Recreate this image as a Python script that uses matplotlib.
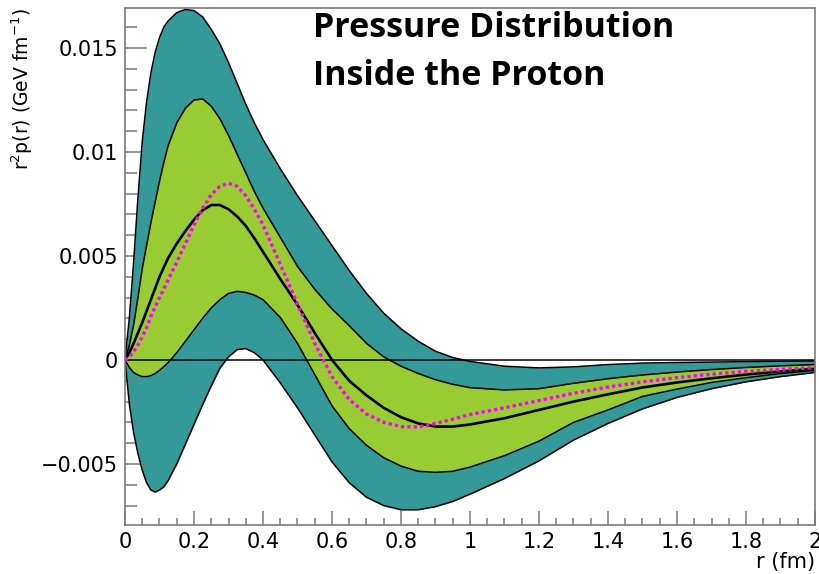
import matplotlib
matplotlib.use("Agg")
import matplotlib.pyplot as plt
import numpy as np

# radial grid (fm)
r = [0.0, 0.0125, 0.025, 0.0375, 0.05, 0.0625, 0.075, 0.0875, 0.1, 0.1125,
     0.125, 0.15, 0.175, 0.2, 0.225, 0.25, 0.275, 0.3, 0.325, 0.35, 0.375,
     0.4, 0.45, 0.5, 0.55, 0.6, 0.65, 0.7, 0.75, 0.8, 0.85, 0.9, 0.95, 1.0,
     1.1, 1.2, 1.3, 1.4, 1.5, 1.6, 1.7, 1.8, 1.9, 2.0]

# r^2 p(r) in units of 1e-3 GeV fm^-1
outer_hi = [0.0, 2.0, 4.7, 7.8, 10.5, 12.4, 13.8, 14.8, 15.5, 16.0,
            16.3, 16.7, 16.85, 16.8, 16.5, 15.9, 15.2, 14.3, 13.3, 12.3, 11.4,
            10.6, 9.2, 7.9, 6.7, 5.5, 4.3, 3.2, 2.25, 1.5, 0.9, 0.42, 0.12, -0.07,
            -0.3, -0.38, -0.33, -0.22, -0.15, -0.12, -0.1, -0.08, -0.06, -0.05]
inner_hi = [0.0, 0.7, 1.7, 3.0, 4.4, 5.5, 6.6, 7.6, 8.6, 9.5,
            10.3, 11.4, 12.1, 12.5, 12.55, 12.2, 11.6, 10.8, 9.9, 9.0, 8.1,
            7.3, 5.9, 4.5, 3.4, 2.45, 1.65, 0.8, 0.15, -0.3, -0.65, -0.95, -1.17,
            -1.33, -1.44, -1.38, -1.12, -0.9, -0.72, -0.58, -0.46, -0.36, -0.28,
            -0.22]
central = [0.0, 0.35, 0.8, 1.3, 1.8, 2.35, 2.9, 3.45, 4.0, 4.45,
           4.9, 5.6, 6.2, 6.75, 7.2, 7.45, 7.45, 7.25, 6.9, 6.45, 5.85,
           5.2, 3.9, 2.65, 1.3, 0.0, -1.0, -1.7, -2.3, -2.75, -3.05, -3.2, -3.2,
           -3.1, -2.8, -2.4, -2.0, -1.65, -1.32, -1.08, -0.88, -0.7, -0.55,
           -0.42]
inner_lo = [0.0, -0.35, -0.6, -0.72, -0.8, -0.8, -0.75, -0.65, -0.5, -0.32,
            -0.12, 0.35, 0.9, 1.45, 2.0, 2.5, 2.9, 3.2, 3.3, 3.25, 3.12,
            2.9, 2.05, 0.8, -0.7, -2.2, -3.3, -4.1, -4.7, -5.1, -5.35, -5.4,
            -5.35, -5.15, -4.6, -3.9, -3.0, -2.4, -1.75, -1.4, -1.08, -0.85,
            -0.65, -0.5]
outer_lo = [0.0, -2.1, -3.5, -4.5, -5.3, -5.9, -6.25, -6.35, -6.25, -6.1,
            -5.8, -5.0, -4.05, -3.1, -2.15, -1.25, -0.4, 0.15, 0.5, 0.55, 0.35,
            0.0, -1.1, -2.3, -3.6, -4.9, -5.9, -6.6, -7.0, -7.2, -7.2, -7.05,
            -6.8, -6.45, -5.7, -4.85, -3.85, -3.05, -2.35, -1.8, -1.38, -1.05,
            -0.8, -0.6]
model = [0.0, 0.15, 0.4, 0.72, 1.1, 1.55, 2.1, 2.55, 3.0, 3.42,
         3.85, 4.7, 5.6, 6.5, 7.3, 7.95, 8.35, 8.5, 8.35, 7.9, 7.25,
         6.5, 4.6, 2.7, 0.8, -0.8, -1.9, -2.6, -3.0, -3.2, -3.22, -3.05, -2.85,
         -2.62, -2.3, -1.95, -1.6, -1.3, -1.05, -0.85, -0.68, -0.55, -0.45,
         -0.37]

x_ticks = [0, 0.2, 0.4, 0.6, 0.8, 1.0, 1.2, 1.4, 1.6, 1.8, 2.0]
x_labels = ["0", "0.2", "0.4", "0.6", "0.8", "1", "1.2", "1.4", "1.6", "1.8", "2"]
y_ticks = [-0.005, 0.0, 0.005, 0.01, 0.015]
y_labels = ["\u22120.005", "0", "0.005", "0.01", "0.015"]

title_lines = ["Pressure Distribution", "Inside the Proton"]

TEAL = "#339999"
GREEN = "#99cc33"
FRAME = "#7a7a7a"

plt.rcParams["font.family"] = ["DejaVu Sans"]

rr = np.array(r)
s = 1e-3
fig = plt.figure(figsize=(8.2, 5.74), dpi=100)
ax = fig.add_axes([125 / 820, 1 - 525 / 574, 690 / 820, 517 / 574])

ax.fill_between(rr, np.array(outer_lo) * s, np.array(outer_hi) * s,
                color=TEAL, lw=0, zorder=1)
ax.fill_between(rr, np.array(inner_lo) * s, np.array(inner_hi) * s,
                color=GREEN, lw=0, zorder=2)
for band in (outer_hi, outer_lo, inner_hi, inner_lo):
    ax.plot(rr, np.array(band) * s, color="black", lw=1.1, zorder=3,
            solid_joinstyle="round")
ax.axhline(0, color="black", lw=1.1, zorder=4)
ax.plot(rr, np.array(central) * s, color="black", lw=1.9, zorder=5,
        solid_joinstyle="round")
ax.plot(rr, np.array(model) * s, color="#ff00ff", lw=2.4,
        dashes=(1.0, 0.9), dash_capstyle="butt", zorder=6)

ax.set_xlim(0, 2)
ax.set_ylim(-0.007933, 0.016923)

ax.set_xticks(x_ticks)
ax.set_xticklabels(x_labels)
ax.set_xticks(np.arange(0, 2.0001, 0.05), minor=True)
ax.set_yticks(y_ticks)
ax.set_yticklabels(y_labels)
ax.set_yticks(np.arange(-0.007, 0.0165, 0.001), minor=True)

ax.tick_params(axis="y", which="major", direction="in", length=15.8,
               width=1.1, color=FRAME, labelsize=15, pad=5)
ax.tick_params(axis="y", which="minor", direction="in", length=8.6,
               width=1.1, color=FRAME)
ax.tick_params(axis="x", which="major", direction="in", length=10,
               width=1.1, color=FRAME, labelsize=15, pad=5)
ax.tick_params(axis="x", which="minor", direction="in", length=5,
               width=1.1, color=FRAME)

for sp in ax.spines.values():
    sp.set_color(FRAME)
    sp.set_linewidth(1.2)
    sp.set_zorder(7)

fig.text(22 / 820, 1 - 8 / 574, r"r$^{2}$p(r) (GeV fm$^{-1}$)",
         rotation=90, ha="center", va="top", fontsize=13.5)
fig.text(815 / 820, 1 - 562 / 574, "r (fm)", ha="right", va="center",
         fontsize=15)

fig.text(313 / 820, 1 - 37 / 574, title_lines[0], ha="left", va="baseline",
         fontsize=24.5, fontweight="bold", family="Open Sans")
fig.text(313 / 820, 1 - 85 / 574, title_lines[1], ha="left", va="baseline",
         fontsize=24.5, fontweight="bold", family="Open Sans")

fig.savefig("out.png", dpi=100)
